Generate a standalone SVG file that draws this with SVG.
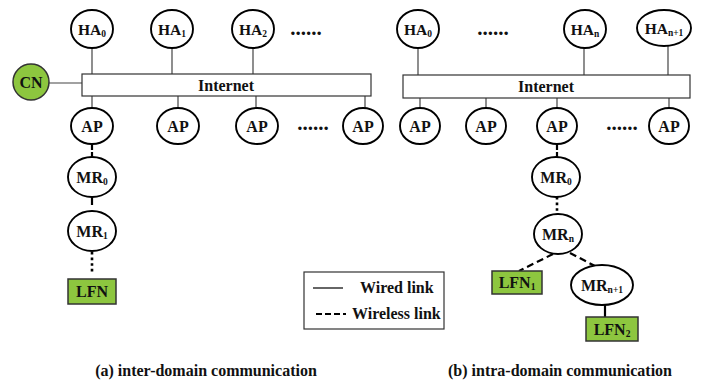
<svg xmlns="http://www.w3.org/2000/svg" width="716" height="383" viewBox="0 0 716 383">
<style>
text{font-family:"Liberation Serif","Times New Roman",serif;font-weight:bold;fill:#111;text-anchor:middle}
.n{fill:#fff;stroke:#000;stroke-width:1.9}
.g{fill:#8DC63F;stroke:#333;stroke-width:1.5}
.net{fill:#fff;stroke:#333;stroke-width:1.2}
.w{stroke:#444;stroke-width:1.2;fill:none}
.s{stroke:#000;stroke-width:2.2;fill:none}
.dot{stroke:#000;stroke-width:2.6;fill:none;stroke-dasharray:2.6 3}
.dash{stroke:#000;stroke-width:2.2;fill:none;stroke-dasharray:7 4}
.wl{stroke:#000;stroke-width:2.2;fill:none;stroke-dasharray:6 2}
.t{font-size:16px}
.h{font-size:15.5px}
.sub{font-size:9.5px}
.dots{font-size:21px}
</style>
<g id="connectors">
  <line class="w" x1="92" y1="48" x2="92" y2="74"/>
  <line class="w" x1="172" y1="48" x2="172" y2="74"/>
  <line class="w" x1="253" y1="48" x2="253" y2="74"/>
  <line class="w" x1="49" y1="83" x2="82" y2="83"/>
  <line class="w" x1="92" y1="96" x2="92" y2="108"/>
  <line class="w" x1="178" y1="96" x2="178" y2="108"/>
  <line class="w" x1="256" y1="96" x2="256" y2="108"/>
  <line class="w" x1="365" y1="96" x2="365" y2="108"/>
  <line class="wl" x1="92" y1="144" x2="92" y2="157"/>
  <line class="s" x1="92" y1="196" x2="92" y2="205"/>
  <line class="dot" x1="92" y1="252" x2="92" y2="274"/>
  <line class="w" x1="418" y1="48" x2="418" y2="75"/>
  <line class="w" x1="584" y1="48" x2="584" y2="75"/>
  <line class="w" x1="668" y1="46" x2="668" y2="75"/>
  <line class="w" x1="420" y1="98" x2="420" y2="108"/>
  <line class="w" x1="486" y1="98" x2="486" y2="108"/>
  <line class="w" x1="557" y1="98" x2="557" y2="108"/>
  <line class="w" x1="669" y1="98" x2="669" y2="108"/>
  <line class="wl" x1="557" y1="144" x2="557" y2="157"/>
  <line class="dot" x1="557" y1="197" x2="557" y2="214"/>
  <line class="dash" x1="553" y1="254" x2="519" y2="271"/>
  <line class="dash" x1="570" y1="253" x2="595" y2="266"/>
  <line class="s" x1="605" y1="305" x2="605" y2="317"/>
</g>
<g id="CN"><ellipse class="g" cx="31" cy="82" rx="18" ry="18"/><text class="t" x="31" y="88">CN</text></g>
<g id="Internet-a"><rect class="net" x="82" y="74" width="289" height="22"/><text class="t" x="226" y="91">Internet</text></g>
<g id="HA0-a"><ellipse class="n" cx="92" cy="29" rx="21" ry="19"/><text class="h" x="92" y="35">HA<tspan class="sub" dy="2">0</tspan></text></g>
<g id="HA1-a"><ellipse class="n" cx="172" cy="29" rx="21" ry="19"/><text class="h" x="172" y="35">HA<tspan class="sub" dy="2">1</tspan></text></g>
<g id="HA2-a"><ellipse class="n" cx="253" cy="29" rx="21" ry="19"/><text class="h" x="253" y="35">HA<tspan class="sub" dy="2">2</tspan></text></g>
<text class="dots" x="306" y="35">......</text>
<g id="AP1-a"><ellipse class="n" cx="92" cy="126" rx="21" ry="18"/><text class="t" x="92" y="132">AP</text></g>
<g id="AP2-a"><ellipse class="n" cx="178" cy="126" rx="21" ry="18"/><text class="t" x="178" y="132">AP</text></g>
<g id="AP3-a"><ellipse class="n" cx="257" cy="126" rx="21" ry="18"/><text class="t" x="257" y="132">AP</text></g>
<text class="dots" x="313" y="130">......</text>
<g id="AP4-a"><ellipse class="n" cx="363" cy="126" rx="20" ry="18"/><text class="t" x="363" y="132">AP</text></g>
<g id="MR0-a"><ellipse class="n" cx="92" cy="177" rx="24" ry="20"/><text class="t" x="92" y="183">MR<tspan class="sub" dy="2">0</tspan></text></g>
<g id="MR1-a"><ellipse class="n" cx="92" cy="231" rx="24" ry="20"/><text class="t" x="92" y="237">MR<tspan class="sub" dy="2">1</tspan></text></g>
<g id="LFN-a"><rect class="g" x="68" y="279" width="48" height="25"/><text class="t" x="92" y="297">LFN</text></g>

<g id="Internet-b"><rect class="net" x="403" y="75" width="287" height="23"/><text class="t" x="546" y="92">Internet</text></g>
<g id="HA0-b"><ellipse class="n" cx="418" cy="29" rx="21" ry="19"/><text class="h" x="418" y="35">HA<tspan class="sub" dy="2">0</tspan></text></g>
<text class="dots" x="493" y="35">......</text>
<g id="HAn-b"><ellipse class="n" cx="585" cy="29" rx="21" ry="19"/><text class="h" x="585" y="35">HA<tspan class="sub" dy="2">n</tspan></text></g>
<g id="HAn1-b"><ellipse class="n" cx="664" cy="28" rx="27" ry="18"/><text class="h" x="664" y="34">HA<tspan class="sub" dy="2">n+1</tspan></text></g>
<g id="AP1-b"><ellipse class="n" cx="420" cy="126" rx="20" ry="18"/><text class="t" x="420" y="132">AP</text></g>
<g id="AP2-b"><ellipse class="n" cx="486" cy="126" rx="20" ry="18"/><text class="t" x="486" y="132">AP</text></g>
<g id="AP3-b"><ellipse class="n" cx="557" cy="126" rx="20" ry="18"/><text class="t" x="557" y="132">AP</text></g>
<text class="dots" x="622" y="130">......</text>
<g id="AP4-b"><ellipse class="n" cx="669" cy="126" rx="20" ry="18"/><text class="t" x="669" y="132">AP</text></g>
<g id="MR0-b"><ellipse class="n" cx="556" cy="177" rx="24" ry="20"/><text class="t" x="556" y="183">MR<tspan class="sub" dy="2">0</tspan></text></g>
<g id="MRn-b"><ellipse class="n" cx="558" cy="234" rx="24" ry="20"/><text class="t" x="558" y="240">MR<tspan class="sub" dy="2">n</tspan></text></g>
<g id="LFN1-b"><rect class="g" x="492" y="271" width="50" height="23"/><text class="t" x="517" y="288">LFN<tspan class="sub" dy="2">1</tspan></text></g>
<g id="MRn1-b"><ellipse class="n" cx="602" cy="285" rx="31" ry="20"/><text class="t" x="602" y="291">MR<tspan class="sub" dy="2">n+1</tspan></text></g>
<g id="LFN2-b"><rect class="g" x="586" y="317" width="52" height="24"/><text class="t" x="612" y="335">LFN<tspan class="sub" dy="2">2</tspan></text></g>

<g id="legend">
  <rect x="304" y="272" width="140" height="57" fill="#fff" stroke="#333" stroke-width="1.2"/>
  <line x1="313" y1="288" x2="343" y2="288" stroke="#000" stroke-width="1.2"/>
  <text class="t" x="360" y="293" style="text-anchor:start">Wired link</text>
  <line class="dash" x1="316" y1="314" x2="346" y2="314" style="stroke-dasharray:6 3"/>
  <text class="t" x="352" y="319" style="text-anchor:start">Wireless link</text>
</g>
<text class="t" x="206" y="376">(a) inter-domain communication</text>
<text class="t" x="560" y="376">(b) intra-domain communication</text>
</svg>
